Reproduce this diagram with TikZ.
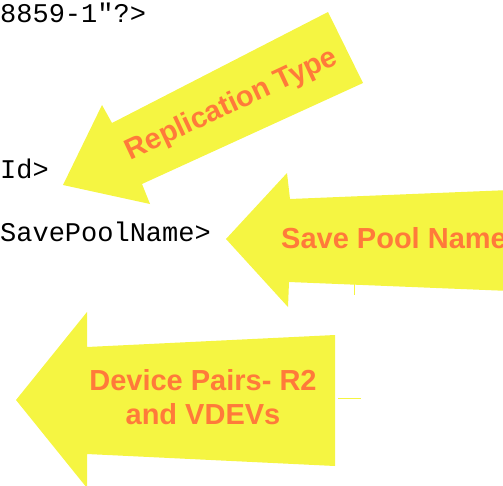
\documentclass[tikz,border=0pt]{standalone}
\usepackage{fontspec}
\setmainfont{Liberation Sans}
\newfontfamily\monofont{Liberation Mono}
\definecolor{arrowyellow}{RGB}{245,245,66}
\definecolor{labelorange}{RGB}{255,122,58}
\begin{document}
\begin{tikzpicture}[x=1pt,y=-1pt,
  arrowshape/.style={fill=arrowyellow,draw=none},
  arrowlabel/.style={text=labelorange,font=\fontsize{29}{34}\selectfont\bfseries,inner sep=0pt,align=center},
  code/.style={font=\monofont\fontsize{27}{32}\selectfont,inner sep=0pt,anchor=base west},
  speck/.style={draw=arrowyellow,line width=1pt}]
\useasboundingbox (0,0) rectangle (503,485);
\clip (0,0) rectangle (503,485);
% code text
\node[code] (enc) at (0,22) {8859-1"?>};
\node[code] (id) at (0,178) {Id>};
\node[code] (spn) at (0,241) {SavePoolName>};
% arrow 1: Replication Type
\fill[arrowshape] (63,185) -- (102,105) -- (112,123) -- (328,12) -- (363,83) -- (142,184) -- (150,204) -- cycle;
\node[arrowlabel,rotate=25] (rt) at (232,105) {Replication Type};
% arrow 2: Save Pool Name
\fill[arrowshape] (226,239) -- (287,173) -- (290,199) -- (510,190) -- (510,291) -- (289,282) -- (288,307) -- cycle;
\node[arrowlabel,anchor=base west] (sp) at (281,248) {Save Pool Name};
% arrow 3: Device Pairs
\fill[arrowshape] (16,400) -- (87,312) -- (87,347) -- (335,335) -- (335,466) -- (87,454) -- (87,488) -- cycle;
\node[arrowlabel] (dp) at (203,397) {Device Pairs- R2\\and VDEVs};
% small specks
\draw[speck] (354,283) -- (354,295);
\draw[speck] (338,398) -- (361,398);
\end{tikzpicture}
\end{document}
